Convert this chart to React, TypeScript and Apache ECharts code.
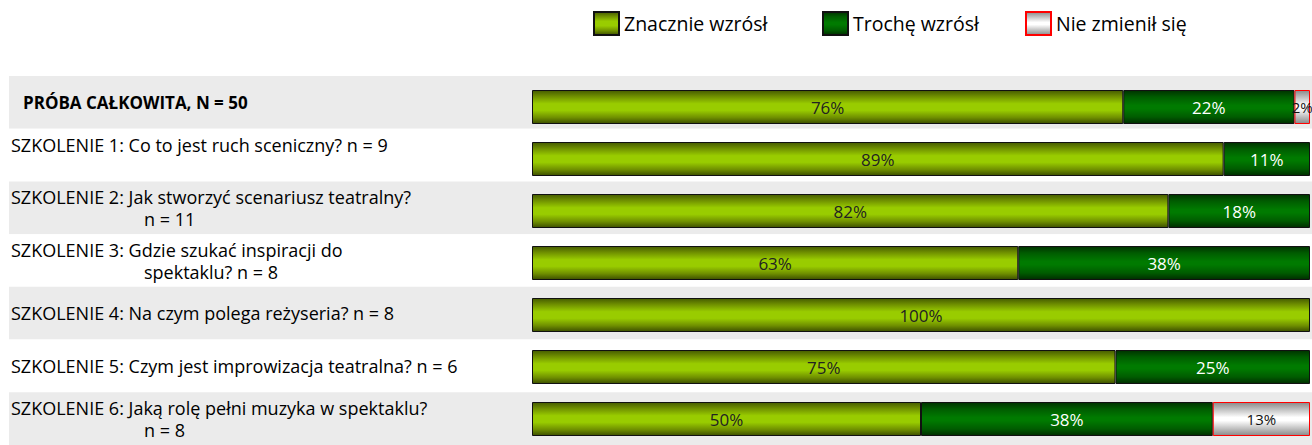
import React, { useEffect, useRef } from "react";
import * as echarts from "echarts";

const categories: string[] = [
  "PRÓBA CAŁKOWITA, N = 50",
  "SZKOLENIE 1: Co to jest ruch sceniczny? n = 9",
  "SZKOLENIE 2: Jak stworzyć scenariusz teatralny?\nn = 11",
  "SZKOLENIE 3: Gdzie szukać inspiracji do\nspektaklu? n = 8",
  "SZKOLENIE 4: Na czym polega reżyseria? n = 8",
  "SZKOLENIE 5: Czym jest improwizacja teatralna? n = 6",
  "SZKOLENIE 6: Jaką rolę pełni muzyka w spektaklu?\nn = 8",
];

const seriesNames: string[] = ["Znacznie wzrósł", "Trochę wzrósł", "Nie zmienił się"];

const znacznieWzrosl: number[] = [76, 88.9, 81.8, 62.5, 100, 75, 50];
const trocheWzrosl: number[] = [22, 11.1, 18.2, 37.5, 0, 25, 37.5];
const nieZmienilSie: number[] = [2, 0, 0, 0, 0, 0, 12.5];

const FONT = "'Open Sans', 'Noto Sans', sans-serif";

export default function App() {
  const ref = useRef<HTMLDivElement>(null);

  useEffect(() => {
    if (!ref.current) return;
    const chart = echarts.init(ref.current, undefined, { renderer: "svg" });

    const lightGreen = new echarts.graphic.LinearGradient(0, 0, 0, 1, [
      { offset: 0, color: "#465c00" },
      { offset: 0.18, color: "#6f8f00" },
      { offset: 0.4, color: "#99cc00" },
      { offset: 0.6, color: "#99cc00" },
      { offset: 0.82, color: "#6f8f00" },
      { offset: 1, color: "#3d5000" },
    ]);
    const darkGreen = new echarts.graphic.LinearGradient(0, 0, 0, 1, [
      { offset: 0, color: "#003300" },
      { offset: 0.2, color: "#005c00" },
      { offset: 0.45, color: "#007a00" },
      { offset: 0.55, color: "#007a00" },
      { offset: 0.8, color: "#005c00" },
      { offset: 1, color: "#002e00" },
    ]);
    const gray = new echarts.graphic.LinearGradient(0, 0, 0, 1, [
      { offset: 0, color: "#8a8a8a" },
      { offset: 0.45, color: "#ffffff" },
      { offset: 0.55, color: "#ffffff" },
      { offset: 1, color: "#8a8a8a" },
    ]);

    const toData = (arr: number[]) => arr.map((v) => (v === 0 ? null : v));
    const pct = (p: any) => `${Math.round(p.value)}%`;

    const legendBase = {
      top: 11,
      padding: 0,
      icon: "rect",
      itemWidth: 25,
      itemHeight: 23,
      selectedMode: false,
      textStyle: { fontSize: 19.5, color: "#000", fontFamily: FONT },
    };

    const option: any = {
      animation: false,
      legend: [
        { ...legendBase, left: 593, data: [seriesNames[0]] },
        { ...legendBase, left: 822, data: [seriesNames[1]] },
        { ...legendBase, left: 1025, data: [seriesNames[2]] },
      ],
      grid: [
        { left: 9, right: 0, top: 76, height: 369 },
        { left: 532, right: 2, top: 81, height: 371 },
      ],
      xAxis: [
        { type: "value", gridIndex: 0, min: 0, max: 1, show: false },
        { type: "value", gridIndex: 1, min: 0, max: 100, show: false },
      ],
      yAxis: [
        {
          type: "category",
          gridIndex: 0,
          data: categories,
          inverse: true,
          axisLine: { show: false },
          axisTick: { show: false },
          splitLine: { show: false },
          splitArea: { show: true, areaStyle: { color: ["#ebebeb", "#ffffff"] } },
          axisLabel: {
            inside: true,
            margin: 2,
            align: "left",
            fontSize: 18,
            fontFamily: FONT,
            color: "#000",
            formatter: (value: string, index: number) => {
              const lines = value.split("\n");
              if (index === 0) return `{b|${value}}`;
              if (lines.length === 1) return index === 1 ? `{t|${value}}` : `{a|${value}}`;
              return `{a|${lines[0]}}\n{i|${lines[1]}}`;
            },
            rich: {
              a: { fontSize: 18, fontFamily: FONT, color: "#000", lineHeight: 22 },
              t: { fontSize: 18, fontFamily: FONT, color: "#000", lineHeight: 22, padding: [0, 0, 20, 0] },
              i: { fontSize: 18, fontFamily: FONT, color: "#000", lineHeight: 22, padding: [0, 0, 0, 133] },
              b: { fontSize: 17, fontFamily: FONT, color: "#000", fontWeight: "bold", lineHeight: 22, padding: [0, 0, 0, 12] },
            },
          },
        },
        {
          type: "category",
          gridIndex: 1,
          data: categories,
          inverse: true,
          show: false,
        },
      ],
      series: [
        {
          name: seriesNames[0],
          type: "bar",
          xAxisIndex: 1,
          yAxisIndex: 1,
          stack: "total",
          barWidth: 34,
          data: toData(znacznieWzrosl),
          itemStyle: { color: lightGreen, borderColor: "#111", borderWidth: 1 },
          label: { show: true, position: "inside", formatter: pct, color: "#222", fontSize: 17, fontFamily: FONT },
        },
        {
          name: seriesNames[1],
          type: "bar",
          xAxisIndex: 1,
          yAxisIndex: 1,
          stack: "total",
          barWidth: 34,
          data: toData(trocheWzrosl),
          itemStyle: { color: darkGreen, borderColor: "#111", borderWidth: 1 },
          label: { show: true, position: "inside", formatter: pct, color: "#fff", fontSize: 17, fontFamily: FONT },
        },
        {
          name: seriesNames[2],
          type: "bar",
          xAxisIndex: 1,
          yAxisIndex: 1,
          stack: "total",
          barWidth: 34,
          data: toData(nieZmienilSie),
          itemStyle: { color: gray, borderColor: "#ff0000", borderWidth: 1 },
          label: { show: true, position: "inside", formatter: pct, color: "#111", fontSize: 15, fontFamily: FONT },
        },
      ],
    };

    chart.setOption(option);
    return () => chart.dispose();
  }, []);

  return (
    <div
      ref={ref}
      style={{ position: "fixed", left: 0, top: 0, width: 1312, height: 445, background: "#fff" }}
    />
  );
}
